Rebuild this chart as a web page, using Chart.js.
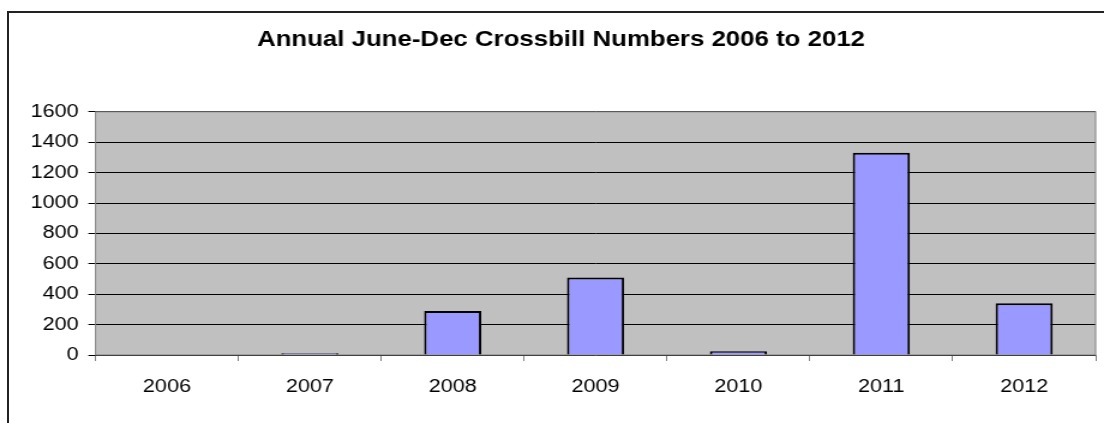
<!DOCTYPE html>
<html>
<head>
<meta charset="utf-8">
<script src="https://cdn.jsdelivr.net/npm/chart.js@4/dist/chart.umd.min.js"></script>
<style>
  body { margin: 0; background: #fff; overflow: hidden; }
  #frame { position: absolute; left: 7px; top: 11px; width: 1200px; height: 500px;
           border-left: 2px solid #222; border-top: 2px solid #222; }
  #c { position: absolute; left: 0; top: 0; width: 1104px; height: 423px; }
</style>
</head>
<body>
<div id="frame"></div>
<canvas id="c" width="920" height="423" style="width:1104px;height:423px"></canvas>
<script>
const years = ['2006', '2007', '2008', '2009', '2010', '2011', '2012'];
const crossbills = [0, 12, 290, 510, 25, 1330, 340];
const yTicks = [0, 200, 400, 600, 800, 1000, 1200, 1400, 1600];
const chartTitle = 'Annual June-Dec Crossbill Numbers 2006 to 2012';

// grey plot area with a grey frame, Excel style
const plotArea = {
  id: 'plotArea',
  beforeDraw(chart) {
    const { ctx, chartArea: a } = chart;
    ctx.save();
    ctx.fillStyle = '#c0c0c0';
    ctx.fillRect(a.left, a.top, a.right - a.left, a.bottom - a.top);
    ctx.restore();
  },
  beforeDatasetsDraw(chart) {
    const { ctx, chartArea: a } = chart;
    ctx.save();
    ctx.strokeStyle = '#808080';
    ctx.lineWidth = 1;
    ctx.strokeRect(a.left, a.top, a.right - a.left, a.bottom - a.top);
    ctx.restore();
  }
};

const font = { family: '"Liberation Sans", Arial, sans-serif', size: 18 };

new Chart(document.getElementById('c'), {
  type: 'bar',
  data: {
    labels: years,
    datasets: [{
      data: crossbills,
      backgroundColor: '#9999ff',
      borderColor: '#000',
      borderWidth: 2,
      categoryPercentage: 0.4,
      barPercentage: 1
    }]
  },
  options: {
    responsive: false,
    devicePixelRatio: 1,
    animation: false,
    layout: { padding: { left: 22, right: 7, top: 0, bottom: 0 } },
    plugins: {
      legend: { display: false },
      tooltip: { enabled: false },
      title: {
        display: true,
        text: chartTitle,
        color: '#000',
        font: { family: font.family, size: 21.5, weight: 'bold' },
        padding: { top: 27, bottom: 59 }
      }
    },
    scales: {
      x: {
        grid: {
          offset: true,
          drawOnChartArea: false,
          tickLength: 6,
          tickColor: '#808080'
        },
        border: { display: false },
        ticks: { color: '#000', font: font, padding: 15 },
        afterFit(scale) { scale.height = 68; }
      },
      y: {
        min: 0,
        max: 1600,
        afterBuildTicks(scale) { scale.ticks = yTicks.map(v => ({ value: v })); },
        grid: { color: '#000', lineWidth: 1, tickLength: 6, tickColor: '#000' },
        border: { display: false },
        ticks: { color: '#000', font: font, padding: 8, callback: v => String(v) },
        afterFit(scale) { scale.width = 57.6; }
      }
    }
  },
  plugins: [plotArea]
});
</script>
</body>
</html>
